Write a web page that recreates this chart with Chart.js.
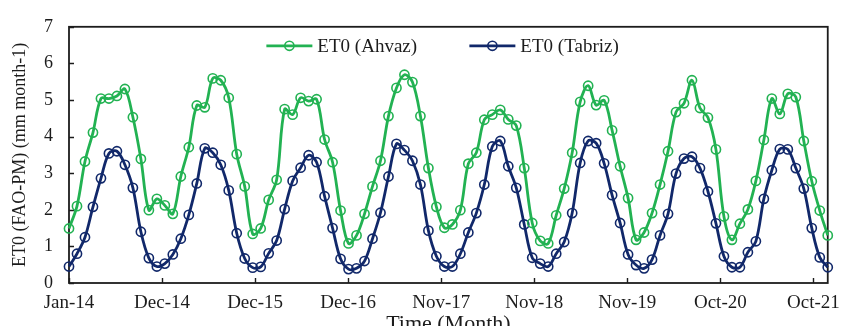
<!DOCTYPE html>
<html>
<head>
<meta charset="utf-8">
<title>Monthly reference evapotranspiration, Ahvaz and Tabriz</title>
<script src="https://cdn.jsdelivr.net/npm/chart.js@4.4.1/dist/chart.umd.min.js"></script>
<style>
  html, body { margin: 0; padding: 0; background: #ffffff; }
  #wrap { width: 849px; height: 326px; position: relative; }
</style>
</head>
<body>
<div id="wrap"><canvas id="chart" width="849" height="326"></canvas></div>
<script>
// Monthly ET0 (FAO Penman-Monteith), Jan 2014 – Dec 2021
const monthNames = ['Jan','Feb','Mar','Apr','May','Jun','Jul','Aug','Sep','Oct','Nov','Dec'];
const years = [14, 15, 16, 17, 18, 19, 20, 21];
const months = [];
years.forEach(y => monthNames.forEach(m => months.push(m + '-' + y)));

const et0Ahvaz = [
  1.49, 2.10, 3.32, 4.11, 5.04, 5.04, 5.11, 5.30, 4.53, 3.39, 1.99, 2.30,
  2.12, 1.89, 2.91, 3.71, 4.85, 4.80, 5.59, 5.54, 5.06, 3.52, 2.64, 1.34,
  1.49, 2.27, 2.82, 4.75, 4.60, 5.06, 4.97, 5.02, 3.92, 3.30, 1.98, 1.08,
  1.30, 1.89, 2.64, 3.34, 4.56, 5.33, 5.69, 5.49, 4.56, 3.14, 2.08, 1.51,
  1.60, 1.99, 3.26, 3.56, 4.46, 4.60, 4.73, 4.47, 4.30, 3.14, 1.64, 1.15,
  1.08, 1.85, 2.58, 3.56, 4.95, 5.39, 4.86, 4.99, 4.17, 3.19, 2.32, 1.18,
  1.38, 1.91, 2.69, 3.60, 4.67, 4.91, 5.54, 4.78, 4.52, 3.65, 1.82, 1.18,
  1.62, 2.01, 2.79, 3.91, 5.04, 4.62, 5.17, 5.08, 3.88, 2.78, 1.98, 1.30
];

const et0Tabriz = [
  0.45, 0.80, 1.25, 2.08, 2.86, 3.54, 3.60, 3.23, 2.60, 1.40, 0.68, 0.45,
  0.53, 0.78, 1.21, 1.86, 2.72, 3.68, 3.56, 3.23, 2.53, 1.36, 0.67, 0.42,
  0.44, 0.81, 1.16, 2.02, 2.79, 3.15, 3.49, 3.30, 2.37, 1.50, 0.66, 0.38,
  0.40, 0.60, 1.21, 1.92, 2.91, 3.80, 3.63, 3.34, 2.69, 1.43, 0.73, 0.45,
  0.45, 0.80, 1.38, 1.91, 2.69, 3.73, 3.88, 3.19, 2.60, 1.60, 0.69, 0.53,
  0.45, 0.80, 1.12, 1.91, 3.28, 3.88, 3.82, 3.27, 2.40, 1.64, 0.78, 0.49,
  0.40, 0.64, 1.30, 1.89, 2.99, 3.40, 3.45, 3.14, 2.50, 1.63, 0.73, 0.43,
  0.43, 0.84, 1.14, 2.30, 3.08, 3.66, 3.65, 3.14, 2.58, 1.50, 0.70, 0.43
];

// Date-axis labels, one every 11.65 months
const xTickLabels = ['Jan-14','Dec-14','Dec-15','Dec-16','Nov-17','Nov-18','Nov-19','Oct-20','Oct-21'];
const xTickStep = 11.65;
const yTickValues = [0, 1, 2, 3, 4, 5, 6, 7];

const GREEN = '#22b252';
const NAVY = '#11286a';
const INK = '#1c1c1c';
const SERIF = '"Liberation Serif", "Times New Roman", serif';

const toPoints = vals => vals.map((v, i) => ({ x: i, y: v }));

// Plot frame, inward tick marks and the in-plot legend
const framePlugin = {
  id: 'frameAndTicks',
  beforeDatasetsDraw(chart) {
    const { ctx, chartArea: a, scales: { x, y } } = chart;
    ctx.save();
    ctx.strokeStyle = INK;
    ctx.lineWidth = 1.8;
    ctx.strokeRect(a.left, a.top, a.right - a.left, a.bottom - a.top);
    ctx.lineWidth = 1.4;
    ctx.beginPath();
    x.ticks.forEach(t => {
      const px = Math.round(x.getPixelForValue(t.value)) + 0.5;
      ctx.moveTo(px, a.bottom);
      ctx.lineTo(px, a.bottom - 5);
    });
    y.ticks.forEach(t => {
      const py = Math.round(y.getPixelForValue(t.value)) + 0.5;
      ctx.moveTo(a.left, py);
      ctx.lineTo(a.left + 5, py);
    });
    ctx.stroke();
    ctx.restore();
  },
  afterDatasetsDraw(chart) {
    const { ctx, chartArea: a } = chart;
    const lineLen = 46, textGap = 5, pitch = 203;
    const cy = a.top + 19;
    let x0 = (a.left + a.right) / 2 - 182;
    ctx.save();
    ctx.font = '19px ' + SERIF;
    ctx.textBaseline = 'middle';
    ctx.textAlign = 'left';
    chart.data.datasets.forEach(ds => {
      ctx.strokeStyle = ds.borderColor;
      ctx.lineWidth = ds.borderWidth;
      ctx.beginPath();
      ctx.moveTo(x0, cy);
      ctx.lineTo(x0 + lineLen, cy);
      ctx.stroke();
      ctx.lineWidth = ds.pointBorderWidth;
      ctx.beginPath();
      ctx.arc(x0 + lineLen / 2, cy, ds.pointRadius, 0, Math.PI * 2);
      ctx.stroke();
      ctx.fillStyle = INK;
      ctx.fillText(ds.label, x0 + lineLen + textGap, cy + 1);
      x0 += pitch;
    });
    ctx.restore();
  }
};

const seriesStyle = color => ({
  borderColor: color,
  backgroundColor: color,
  borderWidth: 2.8,
  pointRadius: 4.6,
  pointHoverRadius: 4.6,
  pointBorderWidth: 1.6,
  pointBorderColor: color,
  pointBackgroundColor: 'rgba(0,0,0,0)',
  tension: 0.35,
  fill: false,
  clip: false
});

new Chart(document.getElementById('chart'), {
  type: 'line',
  data: {
    labels: months,
    datasets: [
      Object.assign({ label: 'ET0 (Ahvaz)', data: toPoints(et0Ahvaz) }, seriesStyle(GREEN)),
      Object.assign({ label: 'ET0 (Tabriz)', data: toPoints(et0Tabriz) }, seriesStyle(NAVY))
    ]
  },
  options: {
    responsive: false,
    animation: false,
    events: [],
    layout: { padding: { left: 0, right: 13, top: 15, bottom: 0 } },
    plugins: {
      legend: { display: false },
      tooltip: { enabled: false }
    },
    scales: {
      x: {
        type: 'linear',
        min: 0,
        max: months.length - 1,
        grid: { display: false, drawTicks: false },
        border: { display: false },
        afterBuildTicks(scale) {
          scale.ticks = xTickLabels.map((_, n) => ({ value: n * xTickStep }));
        },
        afterFit(scale) { scale.height = 43; },
        ticks: {
          autoSkip: false,
          maxRotation: 0,
          padding: 9,
          color: INK,
          font: { family: SERIF, size: 19 },
          callback: (value, index) => xTickLabels[index]
        },
        title: {
          display: true,
          text: 'Time (Month)',
          color: INK,
          font: { family: SERIF, size: 22, lineHeight: 1 },
          padding: { top: 0, bottom: -9 }
        }
      },
      y: {
        min: 0,
        max: 7,
        grid: { display: false, drawTicks: false },
        border: { display: false },
        afterBuildTicks(scale) {
          scale.ticks = yTickValues.map(v => ({ value: v }));
        },
        afterFit(scale) { scale.width = 69; },
        ticks: {
          padding: 16,
          color: INK,
          font: { family: SERIF, size: 18 }
        },
        title: {
          display: true,
          text: 'ET0 (FAO-PM) (mm month-1)',
          color: INK,
          font: { family: SERIF, size: 18 },
          padding: { top: 9, bottom: 0 }
        }
      }
    }
  },
  plugins: [framePlugin]
});
</script>
</body>
</html>
